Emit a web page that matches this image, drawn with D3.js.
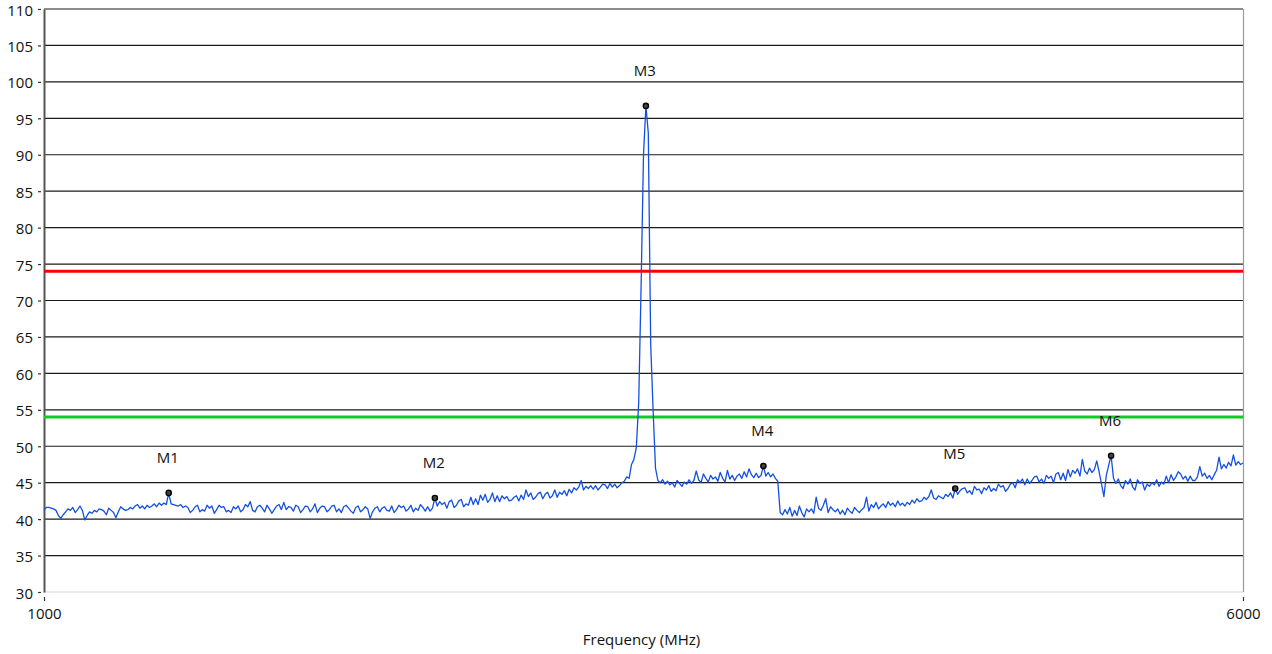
<!DOCTYPE html>
<html><head><meta charset="utf-8">
<script src="https://cdn.jsdelivr.net/npm/d3@7/dist/d3.min.js"></script>
<style>html,body{margin:0;padding:0;background:#fff;overflow:hidden}
text{font-family:"Open Sans","Noto Sans",sans-serif;fill:#111}</style>
</head><body>
<svg id="chart" width="1272" height="654"></svg>
<script>
// ---------- data ----------
const yTickValues = [30,35,40,45,50,55,60,65,70,75,80,85,90,95,100,105,110];
const xTickValues = [1000, 6000];
const xAxisTitle = "Frequency (MHz)";
const sweepStart = 1000;   // MHz
const sweepStep = 10;      // MHz per trace point
const traceLevels = [
 41.3,41.6,41.6,41.5,41.4,41.2,40.5,40.1,40.6,41.0,
 41.4,41.2,41.6,40.9,41.3,41.8,41.2,39.9,40.5,41.0,
 40.8,41.2,41.0,41.4,41.3,41.1,40.6,41.5,41.2,40.9,
 40.2,41.0,41.7,41.4,41.2,41.3,41.6,41.4,41.8,42.0,
 41.5,41.8,41.4,41.9,41.6,41.8,42.1,41.7,42.2,41.9,
 42.2,42.0,43.6,42.1,42.0,41.9,41.8,42.0,41.6,41.8,
 41.6,40.9,41.2,41.7,41.9,41.0,41.3,41.1,41.9,41.5,
 41.8,40.8,41.3,41.9,41.6,41.7,41.0,41.2,40.9,41.7,
 41.4,41.8,41.0,41.3,42.0,41.7,42.4,41.2,41.0,41.7,
 41.9,41.5,41.0,41.9,41.4,40.8,41.3,41.8,42.0,41.3,
 42.3,41.3,41.7,41.6,41.1,41.9,41.7,40.9,41.3,41.8,
 41.7,41.0,41.4,42.1,40.9,41.5,41.8,41.7,41.0,41.3,
 41.8,41.9,41.0,41.4,40.9,41.7,41.9,41.5,41.1,40.8,
 41.6,41.8,41.0,41.3,41.7,41.4,40.1,41.0,41.5,41.7,
 41.0,41.5,41.7,41.2,41.1,41.8,40.9,41.3,41.9,41.6,
 41.8,41.1,41.4,41.9,41.0,41.5,41.2,42.0,41.6,41.1,
 41.7,41.1,41.5,42.9,41.8,42.4,42.0,42.3,41.5,42.4,
 42.6,41.6,41.9,42.5,42.7,41.7,42.1,41.9,43.0,42.0,
 42.8,42.0,43.3,42.6,43.4,42.3,42.7,43.6,42.4,43.2,
 42.4,43.2,42.8,43.1,42.5,42.6,43.0,43.2,42.5,43.3,
 42.7,44.0,43.1,43.6,42.7,43.0,43.5,43.7,42.8,43.4,
 43.7,42.9,43.2,44.0,43.0,43.7,43.4,43.9,43.2,44.1,
 43.6,44.3,44.0,44.4,45.3,44.0,44.5,44.2,44.6,44.1,
 44.6,44.0,44.4,44.8,44.7,44.2,44.9,44.4,44.8,44.3,
 44.6,45.0,45.2,45.8,45.6,47.5,48.2,49.8,56.0,72.0,
 90.0,96.7,93.0,64.0,55.0,47.0,45.3,45.0,45.4,44.8,
 45.2,44.7,45.0,44.4,45.3,44.9,44.5,45.1,44.8,45.4,
 44.9,45.3,46.6,45.4,45.0,46.2,45.6,45.1,46.0,45.5,
 45.8,45.2,46.4,45.6,45.1,46.7,45.5,46.0,45.3,45.9,
 46.2,45.6,46.5,45.8,46.9,46.1,45.7,46.3,45.7,46.0,
 47.3,45.9,46.4,45.8,46.2,45.6,45.2,40.9,40.6,41.3,
 40.7,41.6,40.4,41.2,40.5,41.8,40.9,40.3,41.4,41.0,
 41.4,40.8,43.0,41.5,41.2,41.9,42.8,40.9,41.7,41.3,
 41.0,41.4,40.7,41.2,40.6,41.5,41.1,40.8,41.6,41.2,
 40.9,41.3,41.6,43.0,41.1,42.0,41.6,42.3,41.4,41.8,
 42.1,41.6,42.4,41.9,42.2,41.7,42.5,41.9,42.2,41.8,
 42.3,42.0,42.6,42.2,42.8,42.4,42.5,43.0,42.7,43.1,
 44.0,42.9,42.7,43.2,43.0,42.8,43.4,43.1,43.6,42.9,
 44.2,43.4,43.9,44.2,44.3,43.6,43.9,43.4,44.5,44.0,
 44.1,43.5,44.3,44.0,44.6,43.8,44.2,43.9,44.8,44.4,
 44.6,43.8,44.2,44.8,45.0,44.3,45.4,45.0,45.5,44.7,
 45.5,44.9,45.3,45.8,45.9,45.1,45.5,44.9,46.0,45.6,
 45.9,45.0,46.2,46.4,45.4,46.3,45.3,46.8,45.8,46.7,
 46.3,46.9,45.9,48.2,46.6,46.2,47.0,46.4,46.8,48.0,
 46.5,44.8,43.1,46.0,47.4,48.7,45.6,44.9,45.5,44.6,
 44.2,45.3,44.8,45.5,44.4,44.0,45.4,44.9,45.1,44.0,
 44.8,44.5,45.0,44.7,45.4,44.5,45.1,44.8,45.9,45.0,
 46.1,45.3,45.8,46.5,46.2,45.5,45.9,45.2,45.9,45.3,
 45.3,45.8,47.2,45.9,46.3,45.6,46.0,45.4,46.1,46.7,
 48.5,46.9,47.5,47.0,47.8,47.3,48.8,47.4,47.9,47.5,
 47.7
];
const limitValues = [74, 54];
const markerNames  = ["M1","M2","M3","M4","M5","M6"];
const markerFreqs  = [1520, 2630, 3510, 4000, 4800, 5450];
const markerLevels = [43.6, 42.9, 96.7, 47.3, 44.2, 48.7];

// ---------- styles / layout ----------
const limitColors = ["#ff0000", "#11cc22"];
const L = 44, R = 1243, T = 9, B = 592;

const svg = d3.select("#chart");
const x = d3.scaleLinear().domain([1000, 6000]).range([L, R]);
const y = d3.scaleLinear().domain([30, 110]).range([B, T]);

// gridlines
svg.append("g").selectAll("line").data(yTickValues.filter(v => v > 30)).join("line")
  .attr("x1", L).attr("x2", R)
  .attr("y1", d => y(d)).attr("y2", d => y(d))
  .attr("stroke", "#1a1a1a").attr("stroke-width", 1.2);
// bottom line
svg.append("line").attr("x1", L).attr("x2", R).attr("y1", y(30)).attr("y2", y(30))
  .attr("stroke", "#d8d8d8").attr("stroke-width", 1.2);
// right border
svg.append("line").attr("x1", R + 0.5).attr("x2", R + 0.5).attr("y1", T).attr("y2", B)
  .attr("stroke", "#9a9a9a").attr("stroke-width", 1.2);

// left axis
const gy = svg.append("g").attr("transform", `translate(${L},0)`)
  .call(d3.axisLeft(y).tickValues(yTickValues).tickSizeInner(6).tickSizeOuter(0).tickPadding(10));
gy.select(".domain").attr("stroke", "#555").attr("stroke-width", 2);
gy.selectAll(".tick line").attr("x1", -6).attr("x2", -3).attr("stroke", "#333").attr("stroke-width", 1.2);
gy.selectAll(".tick text").attr("x", -11).attr("font-size", 15).attr("dy", "0.4em")
  .style("font-family", '"Open Sans","Noto Sans",sans-serif').attr("fill", "#111");

// bottom axis
const gx = svg.append("g").attr("transform", `translate(0,${B})`)
  .call(d3.axisBottom(x).tickValues(xTickValues).tickFormat(d3.format("d")).tickSizeInner(9).tickSizeOuter(0).tickPadding(7));
gx.select(".domain").remove();
gx.selectAll(".tick line").attr("y1", 5).attr("y2", 9).attr("stroke", "#333").attr("stroke-width", 1.2);
gx.selectAll(".tick text").attr("font-size", 15)
  .style("font-family", '"Open Sans","Noto Sans",sans-serif').attr("fill", "#111");

svg.append("text").attr("x", (L + R) / 2 - 2).attr("y", 645).attr("text-anchor", "middle")
  .attr("font-size", 15).text(xAxisTitle);

// limit lines
svg.append("g").selectAll("line").data(limitValues).join("line")
  .attr("x1", L).attr("x2", R)
  .attr("y1", d => y(d)).attr("y2", d => y(d))
  .attr("stroke", (d, i) => limitColors[i]).attr("stroke-width", 3);

// trace
const line = d3.line()
  .x((d, i) => x(sweepStart + i * sweepStep))
  .y(d => y(d));
svg.append("path").datum(traceLevels)
  .attr("d", line).attr("fill", "none")
  .attr("stroke", "#1450e0").attr("stroke-width", 1.3).attr("stroke-linejoin", "round");

// markers
const mk = svg.append("g").selectAll("g").data(markerNames).join("g");
mk.append("circle")
  .attr("cx", (d, i) => x(markerFreqs[i])).attr("cy", (d, i) => y(markerLevels[i]))
  .attr("r", 2.6).attr("fill", "#444").attr("stroke", "#000").attr("stroke-width", 1.4);
mk.append("text")
  .attr("x", (d, i) => x(markerFreqs[i]) - 1).attr("y", (d, i) => y(markerLevels[i]) - 30)
  .attr("text-anchor", "middle").attr("font-size", 15).text(d => d);
</script>
</body></html>
